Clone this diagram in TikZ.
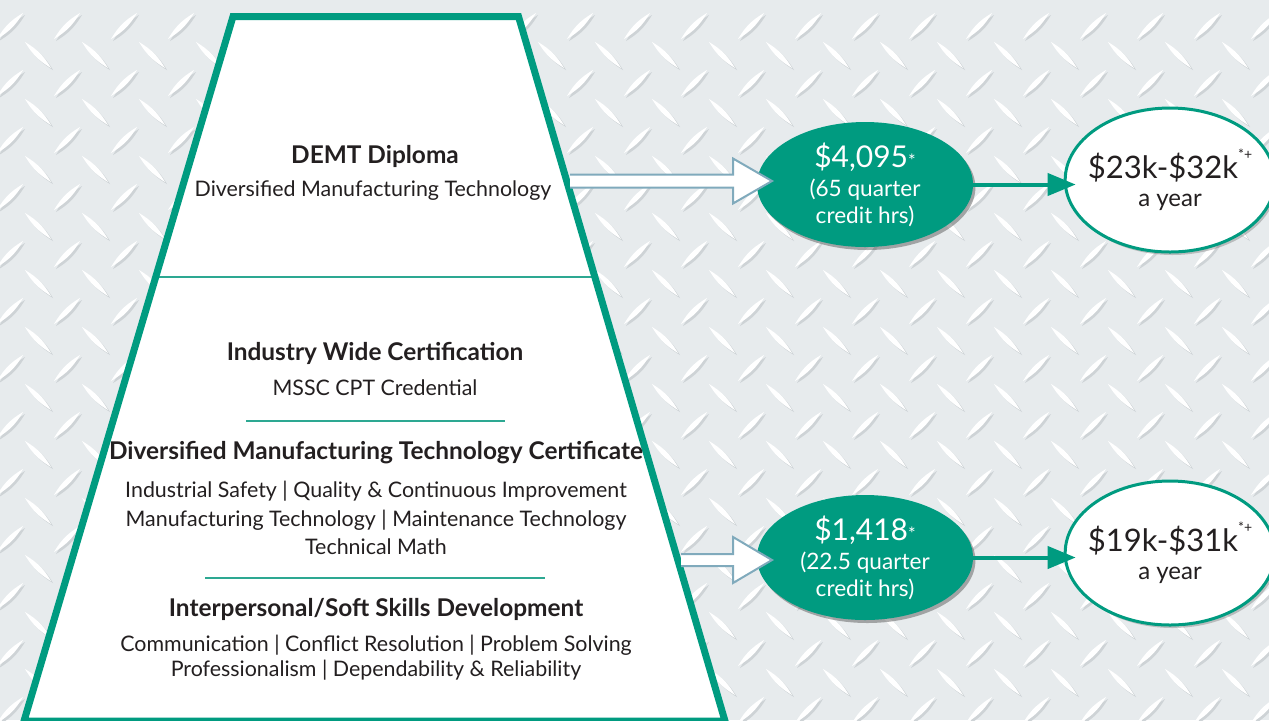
\documentclass[tikz,border=0pt]{standalone}
\usepackage{fontspec}
\setmainfont{Lato}
\usetikzlibrary{arrows.meta,shapes.geometric,shadows}

\definecolor{demtgreen}{RGB}{0,155,128}
\definecolor{dividergreen}{RGB}{45,168,146}
\definecolor{arrowblue}{RGB}{128,170,188}
\definecolor{platebg}{RGB}{231,235,237}
\definecolor{plateshade}{RGB}{206,211,214}
\definecolor{ink}{RGB}{35,31,32}

\tikzset{
  title/.style={font=\bfseries\fontsize{12.2}{14}\selectfont, text=ink, inner sep=0pt},
  body/.style={font=\fontsize{10.7}{14.2}\selectfont, text=ink, align=center, inner sep=0pt},
  fee/.style={ellipse, fill=demtgreen, text=white, inner sep=0pt, align=center,
    minimum width=108pt, minimum height=62.5pt, font=\fontsize{11.3}{13.5}\selectfont,
    drop shadow={shadow xshift=1.2pt, shadow yshift=-1.5pt, opacity=0.45, fill=black!70}},
  pay/.style={ellipse, draw=demtgreen, line width=1.5pt, fill=white, text=ink, inner ysep=0pt,
    inner xsep=-4pt, align=center, minimum width=101pt, minimum height=72pt, font=\fontsize{12}{14}\selectfont,
    drop shadow={shadow xshift=1.2pt, shadow yshift=-1.5pt, opacity=0.35, fill=black!60}},
  hollow/.style={draw=arrowblue, fill=white, line width=1pt, line join=miter},
  payarrow/.style={draw=demtgreen, line width=2pt, -{Triangle[length=14pt,width=11pt]}, shorten >=-6pt},
  rule/.style={draw=dividergreen, line width=0.8pt},
}

\begin{document}
\begin{tikzpicture}[x=0.5pt,y=-0.5pt]
\useasboundingbox (0,0) rectangle (1269,720);
% diamond plate background
\fill[platebg] (0,0) rectangle (1269,720);
\foreach \i in {0,...,22}
  \foreach \j in {0,...,13} {
    \fill[plateshade] (-1+57*\i, 41+57*\j) to[bend left=14] ++(26,-26) to[bend left=14] ++(-26,26);
    \fill[white] (-3+57*\i, 39+57*\j) to[bend left=14] ++(26,-26) to[bend left=14] ++(-26,26);
    \fill[plateshade] (27+57*\i, 44+57*\j) to[bend left=14] ++(26,26) to[bend left=14] ++(-26,-26);
    \fill[white] (25+57*\i, 42+57*\j) to[bend left=14] ++(26,26) to[bend left=14] ++(-26,-26);
  }

% trapezoid
\coordinate (tl) at (233,16.5);
\coordinate (tr) at (518.5,16.5);
\coordinate (br) at (725,721);
\coordinate (bl) at (24,721);
\fill[white] (tl) -- (tr) -- (br) -- (bl) -- cycle;
\draw[draw=dividergreen, line width=1pt] (156,276.5) -- (596,276.5);
\draw[demtgreen, line width=3.5pt, line join=miter] (tl) -- (tr) -- (br) -- (bl) -- cycle;

\node[title] (diploma) at (375,156) {DEMT Diploma};
\node[body] (diplomasub) at (373,191) {Diversified Manufacturing Technology};

\node[title] (industry) at (375,353) {Industry Wide Certification};
\node[body] (mssc) at (375,388) {MSSC CPT Credential};
\draw[rule] (246,421) -- (505,421);

\node[title] (dmtc) at (376,453) {Diversified Manufacturing Technology Certificate};
\node[body] (dmtcsub) at (376,518) {Industrial Safety | Quality \& Continuous Improvement\\
  Manufacturing Technology | Maintenance Technology\\Technical Math};
\draw[rule] (205,578) -- (545,578);

\node[title] (soft) at (376,609) {Interpersonal/Soft Skills Development};
\node[body, font=\fontsize{10.7}{12.6}\selectfont] (softsub) at (376,658) {Communication | Conflict Resolution | Problem Solving\\
  Professionalism | Dependability \& Reliability};

% fees and pay
\node[fee] (fee1) at (865,184.5) {{\fontsize{15}{16}\selectfont\$4,095{\fontsize{9}{9}\selectfont*}}\\[1pt](65 quarter\\credit hrs)};
\node[fee] (fee2) at (865,557.5) {{\fontsize{15}{16}\selectfont\$1,418{\fontsize{9}{9}\selectfont*}}\\[1pt](22.5 quarter\\credit hrs)};
\node[pay] (pay1) at (1170,180) {{\fontsize{15.5}{16}\selectfont\$23k-\$32k\raisebox{1.2ex}{\fontsize{7}{7}\selectfont*+}}\\a year};
\node[pay] (pay2) at (1170,553) {{\fontsize{15.5}{16}\selectfont\$19k-\$31k\raisebox{1.2ex}{\fontsize{7}{7}\selectfont*+}}\\a year};

\draw[payarrow] (fee1.east) -- (fee1.east -| pay1.west);
\draw[payarrow] (fee2.east) -- (fee2.east -| pay2.west);

% hollow arrows
\coordinate (s1) at (570,181);
\coordinate (s2) at (681,560);
\draw[hollow] (s1) ++(0,-6.5) -- ++(163,0) -- ++(0,-16) -- ++(39,22.5) -- ++(-39,22.5) -- ++(0,-16) -- ++(-163,0);
\draw[hollow] (s2) ++(0,-6) -- ++(52,0) -- ++(0,-17) -- ++(39,23) -- ++(-39,23) -- ++(0,-17) -- ++(-52,0);
\end{tikzpicture}
\end{document}
